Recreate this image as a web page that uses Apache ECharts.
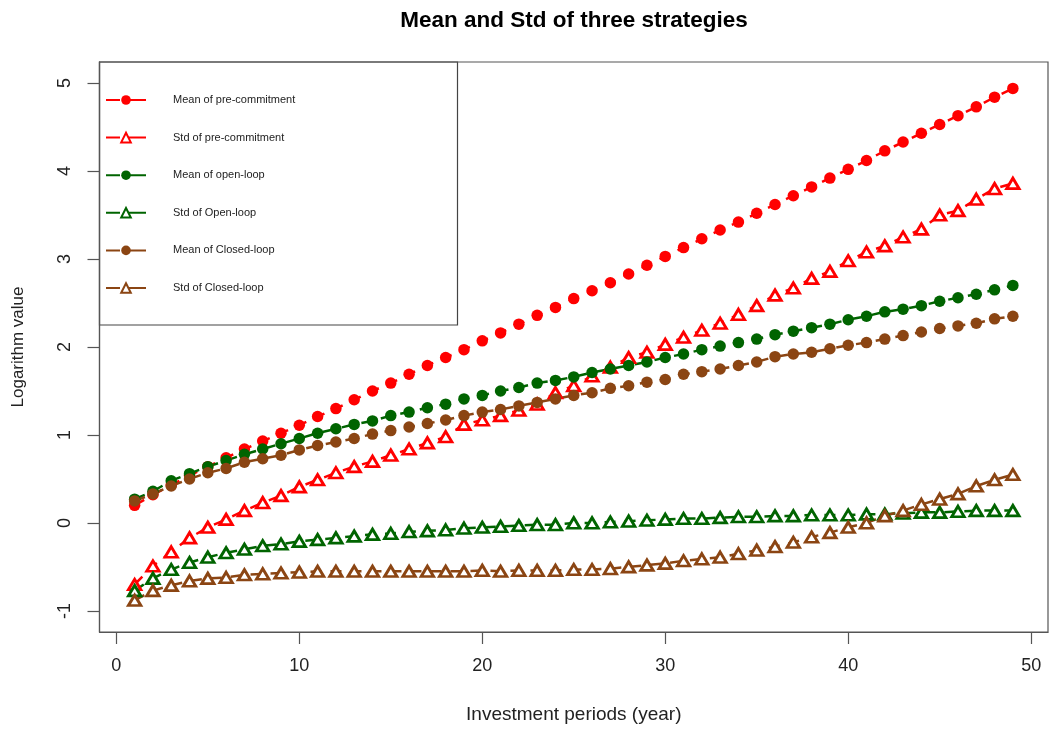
<!DOCTYPE html>
<html>
<head>
<meta charset="utf-8">
<script src="https://cdn.jsdelivr.net/npm/echarts@6/dist/echarts.min.js"></script>
<style>
  html, body { margin: 0; padding: 0; background: #fff; }
  #chart { width: 1051px; height: 731px; }
</style>
</head>
<body>
<div id="chart"></div>
<script>
// Investment horizon in years
const years = [1, 2, 3, 4, 5, 6, 7, 8, 9, 10, 11, 12, 13, 14, 15, 16, 17, 18, 19, 20,
  21, 22, 23, 24, 25, 26, 27, 28, 29, 30, 31, 32, 33, 34, 35, 36, 37, 38, 39, 40,
  41, 42, 43, 44, 45, 46, 47, 48, 49];

// Log of mean / std of terminal wealth for each strategy
const meanPre = [0.20, 0.32, 0.43, 0.54, 0.64, 0.74, 0.84, 0.93, 1.02, 1.11,
  1.21, 1.30, 1.40, 1.50, 1.59, 1.69, 1.79, 1.88, 1.97, 2.07,
  2.16, 2.26, 2.36, 2.45, 2.55, 2.64, 2.73, 2.83, 2.93, 3.03,
  3.13, 3.23, 3.33, 3.42, 3.52, 3.62, 3.72, 3.82, 3.92, 4.02,
  4.12, 4.23, 4.33, 4.43, 4.53, 4.63, 4.73, 4.84, 4.94];
const stdPre = [-0.70, -0.49, -0.33, -0.17, -0.05, 0.04, 0.14, 0.23, 0.31, 0.41,
  0.49, 0.57, 0.64, 0.70, 0.77, 0.84, 0.91, 0.98, 1.12, 1.17,
  1.22, 1.28, 1.35, 1.48, 1.56, 1.67, 1.77, 1.88, 1.94, 2.03,
  2.11, 2.19, 2.27, 2.37, 2.47, 2.59, 2.67, 2.78, 2.86, 2.98,
  3.08, 3.15, 3.25, 3.34, 3.50, 3.55, 3.68, 3.80, 3.86];
const meanOpen = [0.27, 0.36, 0.48, 0.56, 0.64, 0.71, 0.78, 0.84, 0.90, 0.96,
  1.02, 1.07, 1.12, 1.16, 1.22, 1.26, 1.31, 1.35, 1.41, 1.45,
  1.50, 1.54, 1.59, 1.62, 1.66, 1.71, 1.75, 1.79, 1.83, 1.88,
  1.92, 1.97, 2.01, 2.05, 2.09, 2.14, 2.18, 2.22, 2.26, 2.31,
  2.35, 2.40, 2.43, 2.47, 2.52, 2.56, 2.60, 2.65, 2.70];
const stdOpen = [-0.77, -0.63, -0.53, -0.45, -0.39, -0.34, -0.30, -0.26, -0.24, -0.21,
  -0.19, -0.17, -0.15, -0.13, -0.12, -0.10, -0.09, -0.08, -0.06, -0.05,
  -0.04, -0.03, -0.02, -0.02, 0.00, 0.00, 0.01, 0.02, 0.03, 0.04,
  0.05, 0.05, 0.06, 0.07, 0.07, 0.08, 0.08, 0.09, 0.09, 0.09,
  0.10, 0.10, 0.11, 0.12, 0.12, 0.13, 0.14, 0.14, 0.14];
const meanClosed = [0.25, 0.33, 0.42, 0.50, 0.57, 0.62, 0.69, 0.73, 0.77, 0.83,
  0.88, 0.92, 0.96, 1.01, 1.05, 1.09, 1.13, 1.17, 1.22, 1.26,
  1.29, 1.33, 1.37, 1.41, 1.45, 1.48, 1.53, 1.56, 1.60, 1.63,
  1.69, 1.72, 1.75, 1.79, 1.83, 1.89, 1.92, 1.94, 1.98, 2.02,
  2.05, 2.09, 2.13, 2.17, 2.21, 2.24, 2.27, 2.32, 2.35];
const stdClosed = [-0.88, -0.77, -0.71, -0.66, -0.63, -0.62, -0.59, -0.58, -0.57, -0.56,
  -0.55, -0.55, -0.55, -0.55, -0.55, -0.55, -0.55, -0.55, -0.55, -0.54,
  -0.55, -0.54, -0.54, -0.54, -0.53, -0.53, -0.52, -0.50, -0.48, -0.46,
  -0.43, -0.41, -0.39, -0.35, -0.31, -0.27, -0.22, -0.16, -0.11, -0.05,
  0.00, 0.08, 0.14, 0.21, 0.27, 0.33, 0.42, 0.49, 0.55];

// Axis tick labels
const xTicks = [0, 10, 20, 30, 40, 50];
const yTicks = [-1, 0, 1, 2, 3, 4, 5];

const seriesNames = ['Mean of pre-commitment', 'Std of pre-commitment', 'Mean of open-loop',
  'Std of Open-loop', 'Mean of Closed-loop', 'Std of Closed-loop'];

const RED = '#FF0000', GREEN = '#006400', BROWN = '#8B4513';
const FONT = 'Liberation Sans, Arial, Helvetica, sans-serif';

function makeSeries(name, values, color, filledDot) {
  return {
    name: name,
    type: 'line',
    data: years.map((y, i) => [y, values[i]]),
    symbol: filledDot ? 'circle' : 'triangle',
    symbolSize: filledDot ? 11.5 : [12.5, 10.5],
    showSymbol: true,
    lineStyle: { color: color, width: 2.5, type: [11, 9] },
    itemStyle: filledDot
      ? { color: color, borderColor: color, borderWidth: 0 }
      : { color: '#ffffff', borderColor: color, borderWidth: 2.8 },
    emphasis: { disabled: true },
    animation: false
  };
}

const axisColor = '#555';

const chart = echarts.init(document.getElementById('chart'), null, { renderer: 'canvas' });

chart.setOption({
  backgroundColor: '#ffffff',
  animation: false,
  textStyle: { fontFamily: FONT },
  title: {
    text: 'Mean and Std of three strategies',
    left: 569, top: 4, textAlign: 'center',
    textStyle: { fontFamily: FONT, fontSize: 22.5, fontWeight: 'bold', color: '#000' }
  },
  grid: {
    left: 99.5, right: 3, top: 62, bottom: 99,
    show: true, borderColor: axisColor, borderWidth: 1.2, backgroundColor: 'transparent'
  },
  xAxis: {
    type: 'value', min: -0.92, max: 50.92,
    name: 'Investment periods (year)', nameLocation: 'middle', nameGap: 73,
    nameTextStyle: { fontFamily: FONT, fontSize: 19, color: '#222' },
    axisLine: { show: true, onZero: false, lineStyle: { color: axisColor, width: 1.2 } },
    axisTick: { show: true, inside: false, length: 12, customValues: xTicks, lineStyle: { color: axisColor, width: 1.2 } },
    axisLabel: { customValues: xTicks, margin: 25, fontSize: 18, color: '#222', fontFamily: FONT },
    splitLine: { show: false }
  },
  yAxis: {
    type: 'value', min: -1.24, max: 5.24,
    name: 'Logarithm value', nameLocation: 'middle', nameGap: 73,
    nameTextStyle: { fontFamily: FONT, fontSize: 17, color: '#222' },
    axisLine: { show: true, onZero: false, lineStyle: { color: axisColor, width: 1.2 } },
    axisTick: { show: true, inside: false, length: 12, customValues: yTicks, lineStyle: { color: axisColor, width: 1.2 } },
    axisLabel: { customValues: yTicks, margin: 25, fontSize: 18, color: '#222', rotate: 90, fontFamily: FONT },
    splitLine: { show: false }
  },
  legend: {
    orient: 'vertical', left: 105, top: 93, padding: 0,
    itemWidth: 40, itemHeight: 12, itemGap: 23.6,
    data: seriesNames,
    lineStyle: { type: [14, 5, 30, 0] },
    textStyle: { fontFamily: FONT, fontSize: 11, color: '#222', lineHeight: 14, padding: [0, 0, 0, 22] },
    selectedMode: false
  },
  graphic: [{
    type: 'rect', z: -1,
    shape: { x: 99.5, y: 62, width: 358, height: 263 },
    style: { fill: '#ffffff', stroke: '#444', lineWidth: 1.2 }
  }],
  series: [
    makeSeries(seriesNames[0], meanPre, RED, true),
    makeSeries(seriesNames[1], stdPre, RED, false),
    makeSeries(seriesNames[2], meanOpen, GREEN, true),
    makeSeries(seriesNames[3], stdOpen, GREEN, false),
    makeSeries(seriesNames[4], meanClosed, BROWN, true),
    makeSeries(seriesNames[5], stdClosed, BROWN, false)
  ]
});
</script>
</body>
</html>
